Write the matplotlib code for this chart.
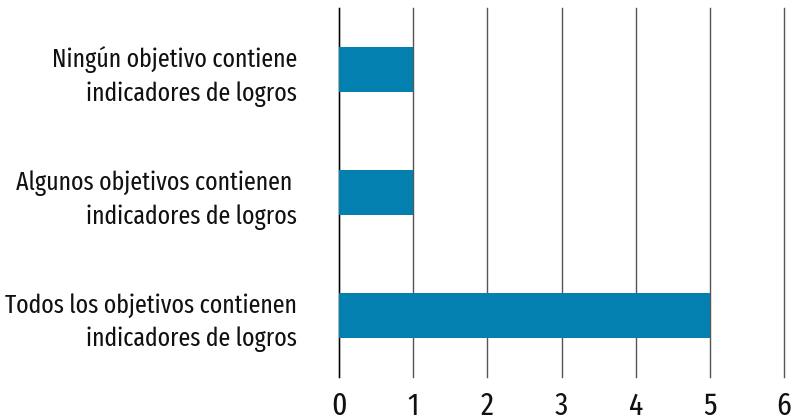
import matplotlib
matplotlib.use("Agg")
import matplotlib.pyplot as plt

categorias = [
    "Todos los objetivos contienen\nindicadores de logros",
    "Algunos objetivos contienen \nindicadores de logros",
    "Ningún objetivo contiene\nindicadores de logros",
]
valores = [5, 1, 1]
ticks_x = [0, 1, 2, 3, 4, 5, 6]

plt.rcParams["font.family"] = ["Fira Sans Extra Condensed", "Fira Sans Condensed", "DejaVu Sans"]

fig = plt.figure(figsize=(7.91, 4.2), dpi=100)
ax = fig.add_axes([339 / 791, 43 / 420, (784 - 339) / 791, (412 - 43) / 420])

pos = list(range(len(categorias)))
ax.barh(pos, valores, height=0.36, color="#0380B0", zorder=3)

ax.set_xlim(0, 6)
ax.set_ylim(-0.5, 2.5)
ax.set_xticks(ticks_x)
ax.set_xticklabels([str(t) for t in ticks_x], fontsize=23)
ax.set_yticks(pos)
ax.set_yticklabels(categorias, fontsize=18.7, linespacing=1.42)
ax.grid(axis="x", color="#555555", linewidth=1, zorder=0)
for linea in ax.get_xgridlines():
    linea.set_clip_on(False)
for lado in ["top", "right", "bottom"]:
    ax.spines[lado].set_visible(False)
ax.spines["left"].set_color("black")
ax.spines["left"].set_linewidth(1)
ax.tick_params(axis="both", length=0, colors="#111111")
ax.tick_params(axis="y", pad=30)
ax.tick_params(axis="x", pad=10)

fig.savefig("out.png", dpi=100)
plt.close(fig)
